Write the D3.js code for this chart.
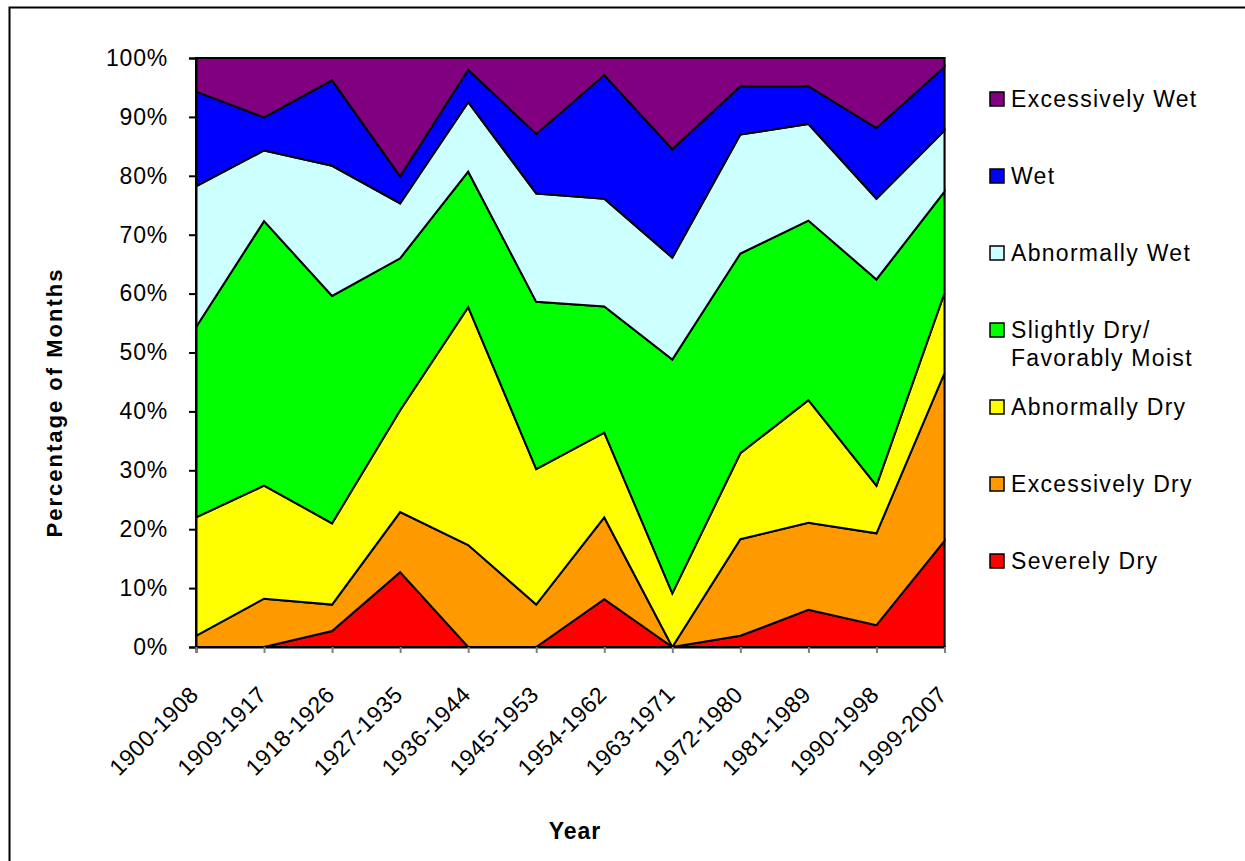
<!DOCTYPE html>
<html>
<head>
<meta charset="utf-8">
<script src="https://cdn.jsdelivr.net/npm/d3@7"></script>
<style>
  html, body { margin: 0; padding: 0; background: #fff; }
  svg { display: block; font-family: Arial, "Liberation Sans", sans-serif; }
</style>
</head>
<body>
<svg id="chart" width="1245" height="861"></svg>
<script>
// Nine-year periods
const periods = ["1900-1908", "1909-1917", "1918-1926", "1927-1935", "1936-1944", "1945-1953",
                 "1954-1962", "1963-1971", "1972-1980", "1981-1989", "1990-1998", "1999-2007"];

// Percentage of months in each moisture class, per period (stacked bottom to top)
const severelyDry     = [0, 0, 2.7, 12.7, 0, 0, 8.1, 0, 1.9, 6.3, 3.7, 18.0];
const excessivelyDry  = [1.9, 8.2, 4.5, 10.2, 17.3, 7.2, 13.9, 0, 16.4, 14.8, 15.6, 28.5];
const abnormallyDry   = [20.1, 19.2, 13.8, 17.3, 40.4, 23.0, 14.4, 9.1, 14.6, 20.8, 8.1, 13.6];
const slightlyDry     = [32.3, 44.9, 38.6, 25.8, 23.0, 28.4, 21.4, 39.7, 33.9, 30.5, 35.0, 17.2];
const abnormallyWet   = [23.9, 12.0, 22.1, 9.3, 11.8, 18.4, 18.3, 17.3, 20.2, 16.4, 13.7, 10.4];
const wet             = [16.1, 5.6, 14.5, 4.6, 5.5, 10.1, 21.0, 18.4, 8.2, 6.4, 12.0, 10.8];
const excessivelyWet  = [5.7, 10.1, 3.8, 20.1, 2.0, 12.9, 2.9, 15.5, 4.8, 4.8, 11.9, 1.5];

const seriesNames = ["Severely Dry", "Excessively Dry", "Abnormally Dry",
                     "Slightly Dry/ Favorably Moist", "Abnormally Wet", "Wet", "Excessively Wet"];
const seriesValues = [severelyDry, excessivelyDry, abnormallyDry, slightlyDry, abnormallyWet, wet, excessivelyWet];
const seriesColors = ["#FF0000", "#FF9900", "#FFFF00", "#00FF00", "#CCFFFF", "#0000FF", "#800080"];

const yTicks = [0, 10, 20, 30, 40, 50, 60, 70, 80, 90, 100];

// Build rows for d3.stack
const rows = periods.map((p, i) => {
  const r = { period: p };
  seriesNames.forEach((n, k) => { r[n] = seriesValues[k][i]; });
  return r;
});

const svg = d3.select("#chart");

// Outer chart frame
svg.append("rect")
  .attr("x", 9.5).attr("y", 7.5)
  .attr("width", 1400).attr("height", 1000)
  .attr("fill", "#fff").attr("stroke", "#000").attr("stroke-width", 2);

const plot = { left: 196, right: 944.5, top: 58, bottom: 647 };

const x = d3.scalePoint().domain(periods).range([plot.left, plot.right]);
const y = d3.scaleLinear().domain([0, 100]).range([plot.bottom, plot.top]);

// Plot area border
svg.append("rect")
  .attr("x", plot.left).attr("y", plot.top)
  .attr("width", plot.right - plot.left).attr("height", plot.bottom - plot.top)
  .attr("fill", "none").attr("stroke", "#808080").attr("stroke-width", 2);

const stack = d3.stack().keys(seriesNames);
const layers = stack(rows);

const area = d3.area()
  .x(d => x(d.data.period))
  .y0(d => y(d[0]))
  .y1(d => y(d[1]));

svg.append("g").selectAll("path")
  .data(layers)
  .join("path")
  .attr("d", area)
  .attr("fill", (d, i) => seriesColors[i])
  .attr("stroke", "#000")
  .attr("stroke-width", 2)
  .attr("stroke-linejoin", "miter");

// Y axis
const yAxis = svg.append("g")
  .attr("transform", `translate(${plot.left},0)`)
  .call(d3.axisLeft(y).tickValues(yTicks).tickFormat(d => d + "%").tickSize(7).tickPadding(21));
yAxis.select(".domain").attr("stroke", "#000").attr("stroke-width", 2);
yAxis.selectAll(".tick line").attr("stroke", "#000").attr("stroke-width", 2);
yAxis.selectAll(".tick text")
  .attr("font-size", 23).attr("letter-spacing", "0.8px")
  .attr("font-family", "Arial, 'Liberation Sans', sans-serif")
  .attr("fill", "#000");

// X axis
const xAxis = svg.append("g")
  .attr("transform", `translate(0,${plot.bottom})`)
  .call(d3.axisBottom(x).tickSize(6).tickFormat(""));
xAxis.select(".domain").attr("stroke", "#000").attr("stroke-width", 2);
xAxis.selectAll(".tick line").attr("stroke", "#808080").attr("stroke-width", 2);

// Rotated period labels
svg.append("g").selectAll("text")
  .data(periods)
  .join("text")
  .attr("transform", d => `translate(${x(d) + 4},${plot.bottom + 49}) rotate(-45)`)
  .attr("text-anchor", "end")
  .attr("font-size", 23)
  .attr("letter-spacing", "0.5px")
  .attr("fill", "#000")
  .text(d => d);

// Axis titles
svg.append("text")
  .attr("transform", `translate(62,${(plot.top + plot.bottom) / 2 + 50}) rotate(-90)`)
  .attr("text-anchor", "middle")
  .attr("font-size", 22).attr("font-weight", "bold")
  .attr("letter-spacing", "2px")
  .text("Percentage of Months");

svg.append("text")
  .attr("x", 575).attr("y", 839)
  .attr("text-anchor", "middle")
  .attr("font-size", 23).attr("font-weight", "bold")
  .attr("letter-spacing", "1px")
  .text("Year");

// Legend (top entry is the top layer)
const legendOrder = seriesNames.map((n, i) => i).reverse();
const legend = svg.append("g");
legendOrder.forEach((k, j) => {
  const cy = 99 + j * 77;
  legend.append("rect")
    .attr("x", 990).attr("y", cy - 7)
    .attr("width", 14).attr("height", 14)
    .attr("fill", seriesColors[k]).attr("stroke", "#000").attr("stroke-width", 1.5);
  const lines = seriesNames[k] === "Slightly Dry/ Favorably Moist"
    ? ["Slightly Dry/", "Favorably Moist"] : [seriesNames[k]];
  const t = legend.append("text")
    .attr("x", 1011).attr("y", cy + 8)
    .attr("font-size", 23).attr("letter-spacing", "1.3px").attr("fill", "#000");
  lines.forEach((ln, li) => {
    t.append("tspan").attr("x", 1011).attr("dy", li === 0 ? 0 : 28).text(ln);
  });
});
</script>
</body>
</html>
